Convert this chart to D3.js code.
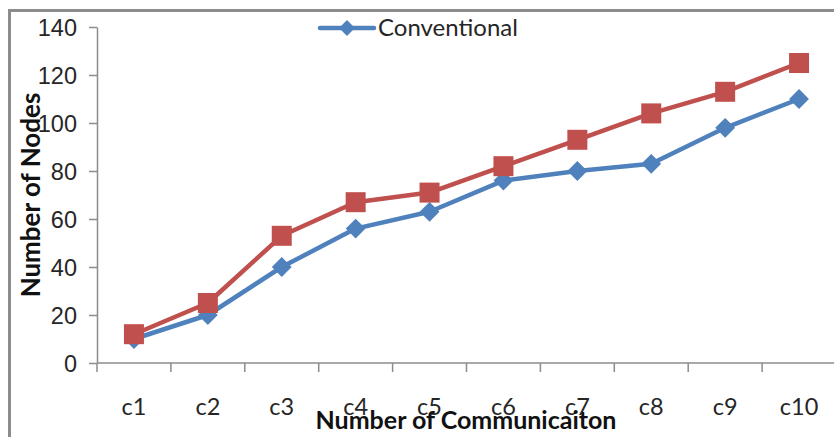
<!DOCTYPE html>
<html>
<head>
<meta charset="utf-8">
<script src="https://cdn.jsdelivr.net/npm/d3@7"></script>
<style>
  html, body { margin: 0; padding: 0; background: #fff; }
  svg { display: block; font-family: Lato, "Open Sans", sans-serif; }
</style>
</head>
<body>
<svg id="chart"></svg>
<script>
const width = 834;
const height = 437;

const categories = ["c1", "c2", "c3", "c4", "c5", "c6", "c7", "c8", "c9", "c10"];
const conventional = [10, 20, 40, 56, 63, 76, 80, 83, 98, 110];
const proposed = [12, 25, 53, 67, 71, 82, 93, 104, 113, 125];
const yTicks = [0, 20, 40, 60, 80, 100, 120, 140];

const margins = { top: 27, right: -2, bottom: 74, left: 97 };
const fontSize = "23.5px";

const svg = d3.select("#chart").attr("width", width).attr("height", height);

// outer chart-area border (cropped at right and bottom)
svg.append("path")
  .attr("d", `M9.5,${height} V10.5 H${width}`)
  .attr("fill", "none")
  .attr("stroke", "#8c8c8c")
  .attr("stroke-width", 3);

const x = d3.scaleBand()
  .domain(categories)
  .range([margins.left, width - margins.right]);

const y = d3.scaleLinear()
  .domain([0, 140])
  .range([height - margins.bottom, margins.top]);

// y axis
const yAxis = svg.append("g")
  .attr("transform", `translate(${margins.left},0)`)
  .call(d3.axisLeft(y).tickValues(yTicks).tickSize(8).tickPadding(12).tickSizeOuter(0));
yAxis.select(".domain").attr("stroke", "#8c8c8c").attr("stroke-width", 1.5);
yAxis.selectAll(".tick line").attr("stroke", "#8c8c8c").attr("stroke-width", 1.5);
yAxis.selectAll("text").attr("font-size", fontSize).attr("fill", "#262626").attr("dy", "0.36em");

// x axis with ticks at band boundaries
const xAxisG = svg.append("g")
  .attr("transform", `translate(0,${y(0)})`);
xAxisG.append("line")
  .attr("x1", margins.left).attr("x2", width)
  .attr("stroke", "#8c8c8c").attr("stroke-width", 1.5);
xAxisG.selectAll(".xtick")
  .data(categories)
  .join("line")
  .attr("class", "xtick")
  .attr("x1", (d) => x(d)).attr("x2", (d) => x(d))
  .attr("y1", 0).attr("y2", 9)
  .attr("stroke", "#8c8c8c").attr("stroke-width", 1.5);
xAxisG.selectAll(".xlabel")
  .data(categories)
  .join("text")
  .attr("class", "xlabel")
  .attr("x", (d) => x(d) + x.bandwidth() / 2)
  .attr("y", 52)
  .attr("text-anchor", "middle")
  .attr("font-size", fontSize)
  .attr("fill", "#262626")
  .text((d) => d);

const cx = (d, i) => x(categories[i]) + x.bandwidth() / 2;

const line = d3.line()
  .x((d, i) => cx(d, i))
  .y((d) => y(d));

// proposed series (red squares)
svg.append("path")
  .datum(proposed)
  .attr("d", line)
  .attr("fill", "none")
  .attr("stroke", "#C0504D")
  .attr("stroke-width", 4.5)
  .attr("stroke-linejoin", "round");

// conventional series (blue diamonds)
svg.append("path")
  .datum(conventional)
  .attr("d", line)
  .attr("fill", "none")
  .attr("stroke", "#4F81BD")
  .attr("stroke-width", 4.5)
  .attr("stroke-linejoin", "round");

svg.append("g")
  .selectAll("path")
  .data(conventional)
  .join("path")
  .attr("d", d3.symbol(d3.symbolDiamond2, 250))
  .attr("transform", (d, i) => `translate(${cx(d, i)},${y(d)})`)
  .attr("fill", "#4F81BD");

svg.append("g")
  .selectAll("rect")
  .data(proposed)
  .join("rect")
  .attr("x", (d, i) => cx(d, i) - 10)
  .attr("y", (d) => y(d) - 10)
  .attr("width", 20)
  .attr("height", 20)
  .attr("fill", "#C0504D");

// legend
const legend = svg.append("g").attr("transform", "translate(320,28)");
legend.append("line")
  .attr("x1", 0).attr("x2", 54)
  .attr("stroke", "#4F81BD").attr("stroke-width", 4.5)
  .attr("stroke-linecap", "round");
legend.append("path")
  .attr("d", d3.symbol(d3.symbolDiamond2, 160))
  .attr("transform", "translate(27,0)")
  .attr("fill", "#4F81BD");
legend.append("text")
  .attr("x", 58)
  .attr("dy", "0.35em")
  .attr("font-size", "24px")
  .attr("fill", "#262626")
  .text("Conventional");

// axis titles
svg.append("text")
  .attr("transform", `translate(40,195) rotate(-90)`)
  .attr("text-anchor", "middle")
  .attr("font-size", "26px")
  .attr("font-weight", "bold")
  .attr("fill", "#111")
  .text("Number of Nodes");

svg.append("text")
  .attr("x", 466)
  .attr("y", 429)
  .attr("text-anchor", "middle")
  .attr("font-size", "25px")
  .attr("font-weight", "bold")
  .attr("fill", "#111")
  .text("Number of Communicaiton");
</script>
</body>
</html>
